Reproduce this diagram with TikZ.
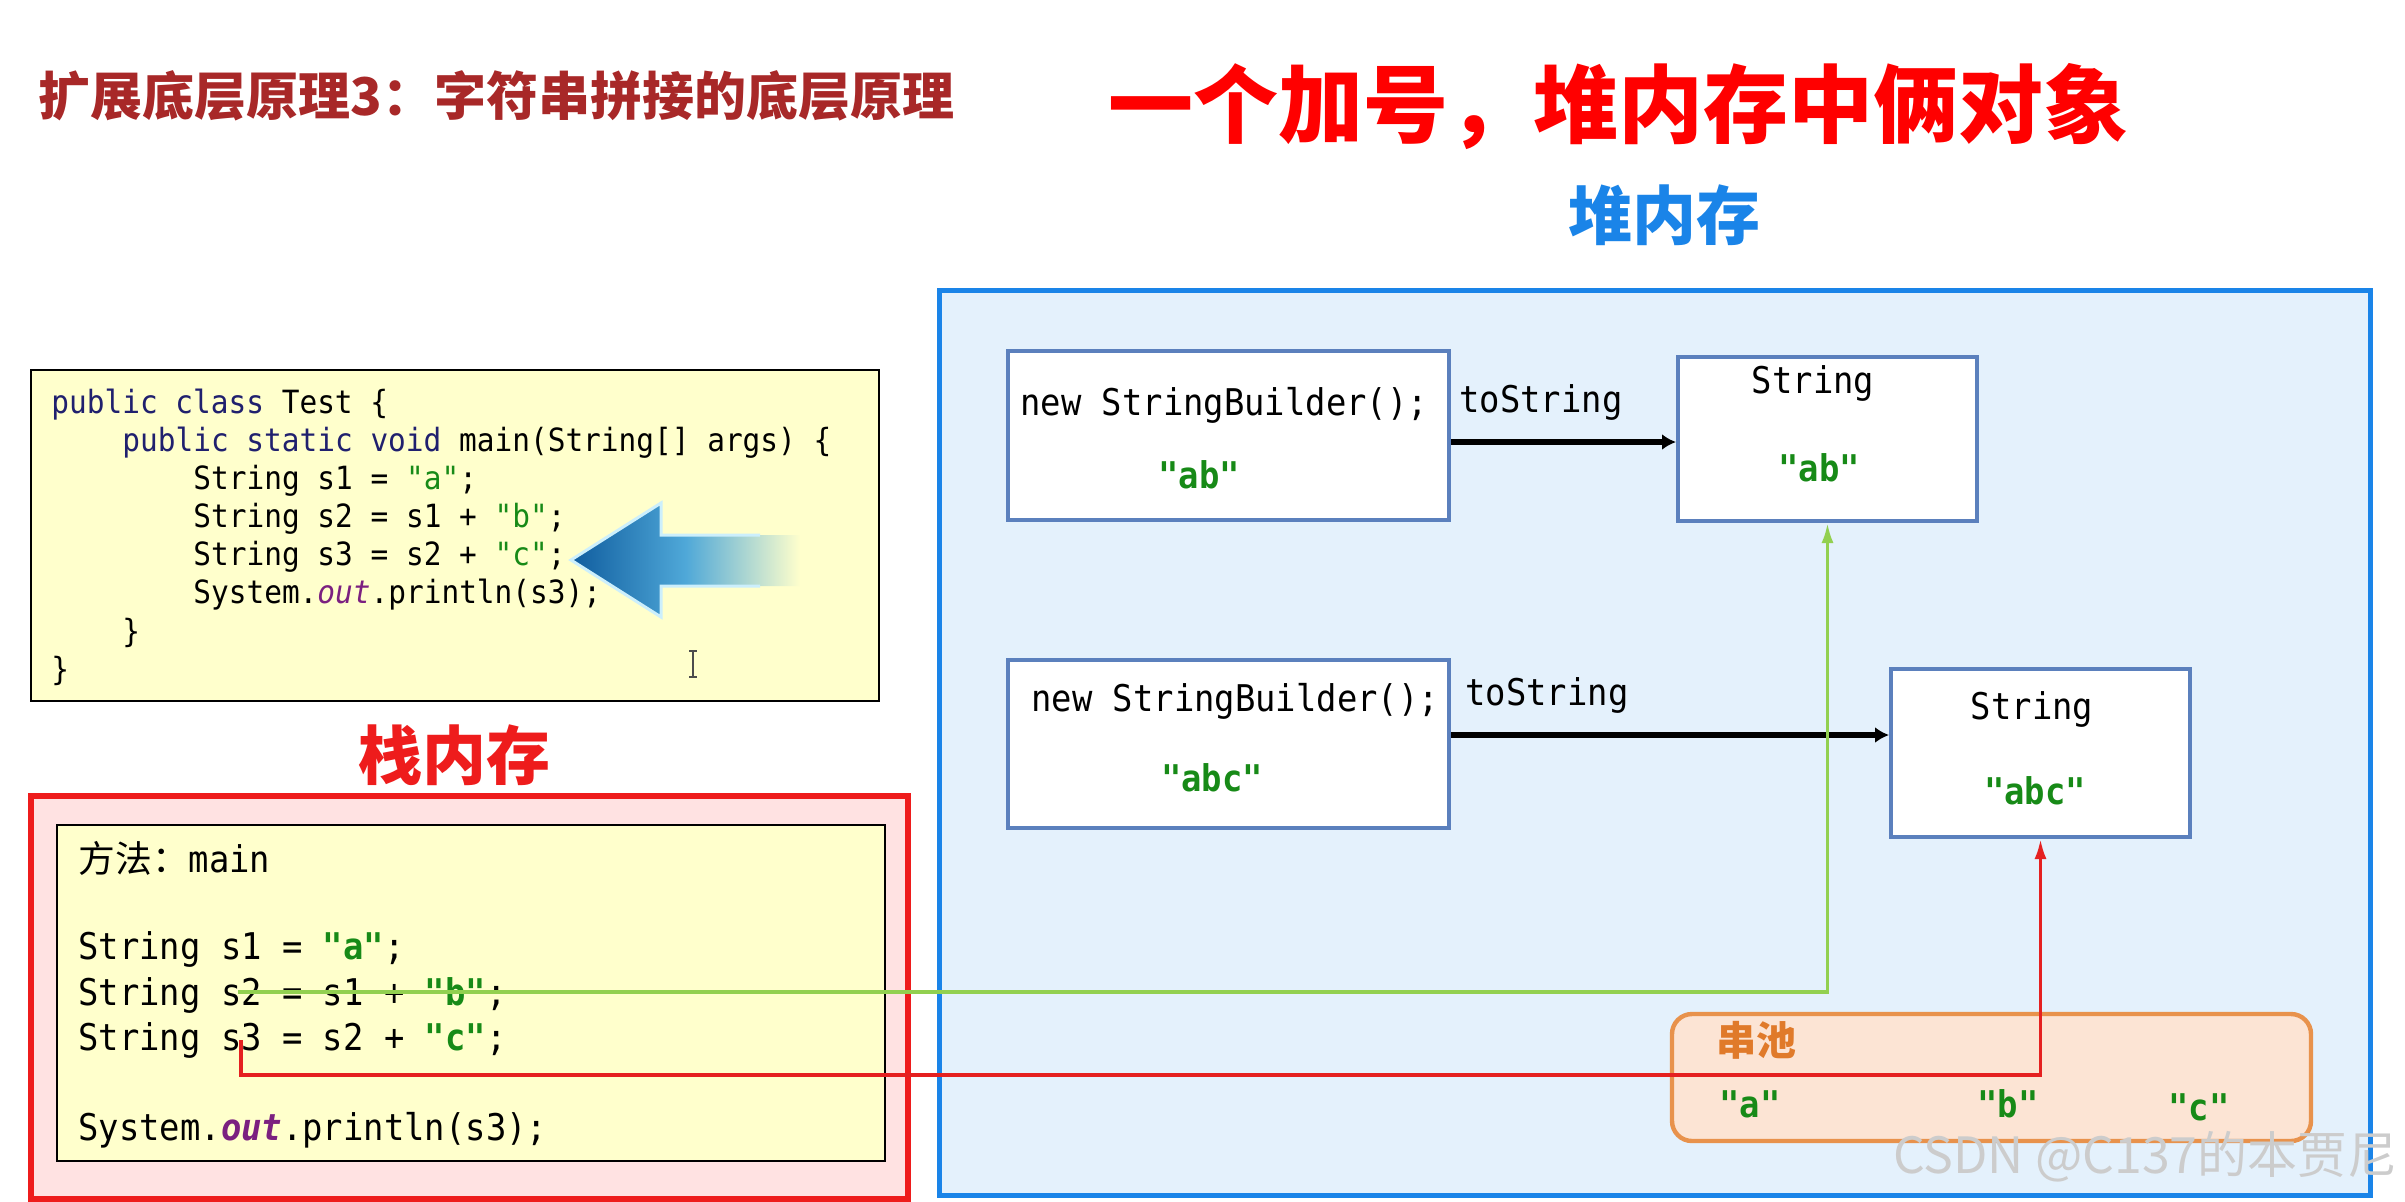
\documentclass[tikz,border=0pt]{standalone}
\usepackage{fontspec}
\usetikzlibrary{arrows.meta,fit,calc}
\newfontfamily\cjk{Noto Sans CJK SC}
\newfontfamily\code[FakeStretch=0.92]{DejaVu Sans Mono}
\definecolor{titledark}{HTML}{A82828}
\definecolor{titlered}{HTML}{FF0000}
\definecolor{heapblue}{HTML}{1A84E8}
\definecolor{heapfill}{HTML}{E4F1FC}
\definecolor{objblue}{HTML}{5B80BD}
\definecolor{codeyellow}{HTML}{FFFFCC}
\definecolor{stackred}{HTML}{EE1C1C}
\definecolor{stackfill}{HTML}{FFE2E2}
\definecolor{poolorange}{HTML}{E8924C}
\definecolor{poolfill}{HTML}{FCE4D4}
\definecolor{poollabel}{HTML}{E07A2A}
\definecolor{litgreen}{HTML}{178A17}
\definecolor{kwnavy}{HTML}{20206E}
\definecolor{outpurple}{HTML}{7B2080}
\definecolor{linegreen}{HTML}{92D050}
\definecolor{linered}{HTML}{E52020}
\definecolor{arrowdark}{HTML}{0F5C9E}
\definecolor{arrowmid}{HTML}{4FA8D8}
\newcommand\jkw[1]{\textcolor{kwnavy}{#1}}
\newcommand\jlit[1]{\textcolor{litgreen}{#1}}
\newcommand\jblit[1]{\textcolor{litgreen}{\bfseries #1}}
\newcommand\jout{\textcolor{outpurple}{\itshape out}}
\newcommand\jbout{\textcolor{outpurple}{\bfseries\itshape out}}
\tikzset{
  boxfit/.style={inner sep=0pt},
  objbox/.style={boxfit, draw=objblue, line width=2pt, fill=white},
  codetxt/.style={anchor=base west, inner sep=0pt, font=\code\fontsize{16}{19}\selectfont},
  memtxt/.style={inner sep=0pt, font=\code\fontsize{18.4}{22}\selectfont},
  cjktitle/.style={inner sep=0pt, anchor=base, font=\cjk\bfseries},
  barrow/.style={line width=3pt, -{Latex[length=7pt,width=8pt]}},
  gline/.style={draw=linegreen, line width=1.6pt, -{Latex[length=10pt,width=6pt]}},
  rline/.style={draw=linered, line width=1.6pt, -{Latex[length=10pt,width=6pt]}}
}
\begin{document}
\begin{tikzpicture}[x=0.5pt,y=-0.5pt]
\useasboundingbox (0,0) rectangle (2405,1201);
\fill[white] (0,0) rectangle (2405,1201);

% titles
\node[cjktitle, anchor=base west, text=titledark, font=\cjk\bfseries\fontsize{26}{30}\selectfont] (t1) at (38,115) {扩展底层原理3：字符串拼接的底层原理};
\node[cjktitle, text=titlered, font=\cjk\bfseries\fontsize{42.5}{48}\selectfont] (t2) at (1618,136) {一个加号，堆内存中俩对象};
\node[cjktitle, text=heapblue, font=\cjk\bfseries\fontsize{32}{36}\selectfont] (heaplabel) at (1664,239) {堆内存};
\node[cjktitle, text=stackred, font=\cjk\bfseries\fontsize{32}{36}\selectfont] (stacklabel) at (454,779) {栈内存};

% heap
\node[boxfit, fit={(939,290) (2370,1195)}, draw=heapblue, fill=heapfill, line width=2.5pt] (heap) {};

% code box
\node[boxfit, fit={(31,370) (879,701)}, draw=black, fill=codeyellow, line width=1pt] (codebox) {};
\node[codetxt] (c1) at (51,413) {\jkw{public class} Test \{};
\node[codetxt] (c2) at (122,451) {\jkw{public static void} main(String[] args) \{};
\node[codetxt] (c3) at (193,489) {String s1 = \jlit{"a"};};
\node[codetxt] (c4) at (193,527) {String s2 = s1 + \jlit{"b"};};
\node[codetxt] (c5) at (193,565) {String s3 = s2 + \jlit{"c"};};
\node[codetxt] (c6) at (193,603) {System.\jout.println(s3);};
\node[codetxt] (c7) at (122,642) {\}};
\node[codetxt] (c8) at (51,680) {\}};

% blue pointer arrow
\path[left color=arrowdark, right color=codeyellow, middle color=arrowmid]
  (571,560) -- (661,503) -- (661,535) -- (800,535) -- (800,586) -- (661,586) -- (661,617) -- cycle;
\draw[cyan!20!white, line width=1.5pt, line join=miter]
  (760,535) -- (661,535) -- (661,503) -- (571,560) -- (661,617) -- (661,586) -- (760,586);
% text cursor
\draw[gray!60!black, line width=0.7pt] (693,651) -- (693,677) (689,651) -- (697,651) (689,677) -- (697,677);

% stack
\node[boxfit, fit={(31,796) (908,1199)}, draw=stackred, fill=stackfill, line width=3pt] (stack) {};
\node[boxfit, fit={(57,825) (885,1161)}, draw=black, fill=codeyellow, line width=1pt] (frame) {};
\node[memtxt, anchor=base west] (m0) at (78,872) {{\cjk 方法：}main};
\node[memtxt, anchor=base west] (m1) at (78,959) {String s1 = \jblit{"a"};};
\node[memtxt, anchor=base west] (m2) at (78,1005) {String s2 = s1 + \jblit{"b"};};
\node[memtxt, anchor=base west] (m3) at (78,1050) {String s3 = s2 + \jblit{"c"};};
\node[memtxt, anchor=base west] (m4) at (78,1140) {System.\jbout.println(s3);};

% heap objects
\node[objbox, fit={(1008,351) (1449,520)}] (sb1) {};
\node[memtxt, anchor=base west] (sb1t) at (1020,415) {new StringBuilder();};
\node[memtxt, anchor=base] (sb1v) at (1199,488) {\jblit{"ab"}};
\node[objbox, fit={(1678,357) (1977,521)}] (str1) {};
\node[memtxt, anchor=base] (str1t) at (1813,393) {String};
\node[memtxt, anchor=base] (str1v) at (1819,481) {\jblit{"ab"}};
\node[memtxt, anchor=base west] (ts1) at (1459,412) {toString};

\node[objbox, fit={(1008,660) (1449,828)}] (sb2) {};
\node[memtxt, anchor=base west] (sb2t) at (1031,711) {new StringBuilder();};
\node[memtxt, anchor=base] (sb2v) at (1212,791) {\jblit{"abc"}};
\node[objbox, fit={(1891,669) (2190,837)}] (str2) {};
\node[memtxt, anchor=base] (str2t) at (2032,719) {String};
\node[memtxt, anchor=base] (str2v) at (2035,804) {\jblit{"abc"}};
\node[memtxt, anchor=base west] (ts2) at (1465,705) {toString};

% string pool
\node[boxfit, fit={(1672,1014) (2311,1141)}, draw=poolorange, fill=poolfill, line width=2.2pt, rounded corners=10pt] (pool) {};
\node[cjktitle, text=poollabel, font=\cjk\bfseries\fontsize{20}{24}\selectfont] (poollabel) at (1756,1055) {串池};
\node[memtxt, anchor=base] (pa) at (1750,1117) {\jblit{"a"}};
\node[memtxt, anchor=base] (pb) at (2008,1117) {\jblit{"b"}};
\node[memtxt, anchor=base] (pc) at (2199,1120) {\jblit{"c"}};

% toString arrows
\coordinate (a1) at (0,442);
\coordinate (a2) at (0,735);
\draw[barrow] (sb1.east |- a1) -- (str1.west |- a1);
\draw[barrow] (sb2.east |- a2) -- (str2.west |- a2);

% reference lines
\coordinate (g0) at (238,992);
\draw[gline] (g0) -| (str1.south);
\coordinate (r0) at (241,1040);
\coordinate (r1) at (241,1075);
\draw[rline] (r0) -- (r1) -| (str2.south);

% watermark
\node[inner sep=0pt, anchor=base east, text=gray!40, font=\cjk\fontsize{25}{28}\selectfont] (wm) at (2398,1173) {CSDN @C137的本贾尼};
\end{tikzpicture}
\end{document}
